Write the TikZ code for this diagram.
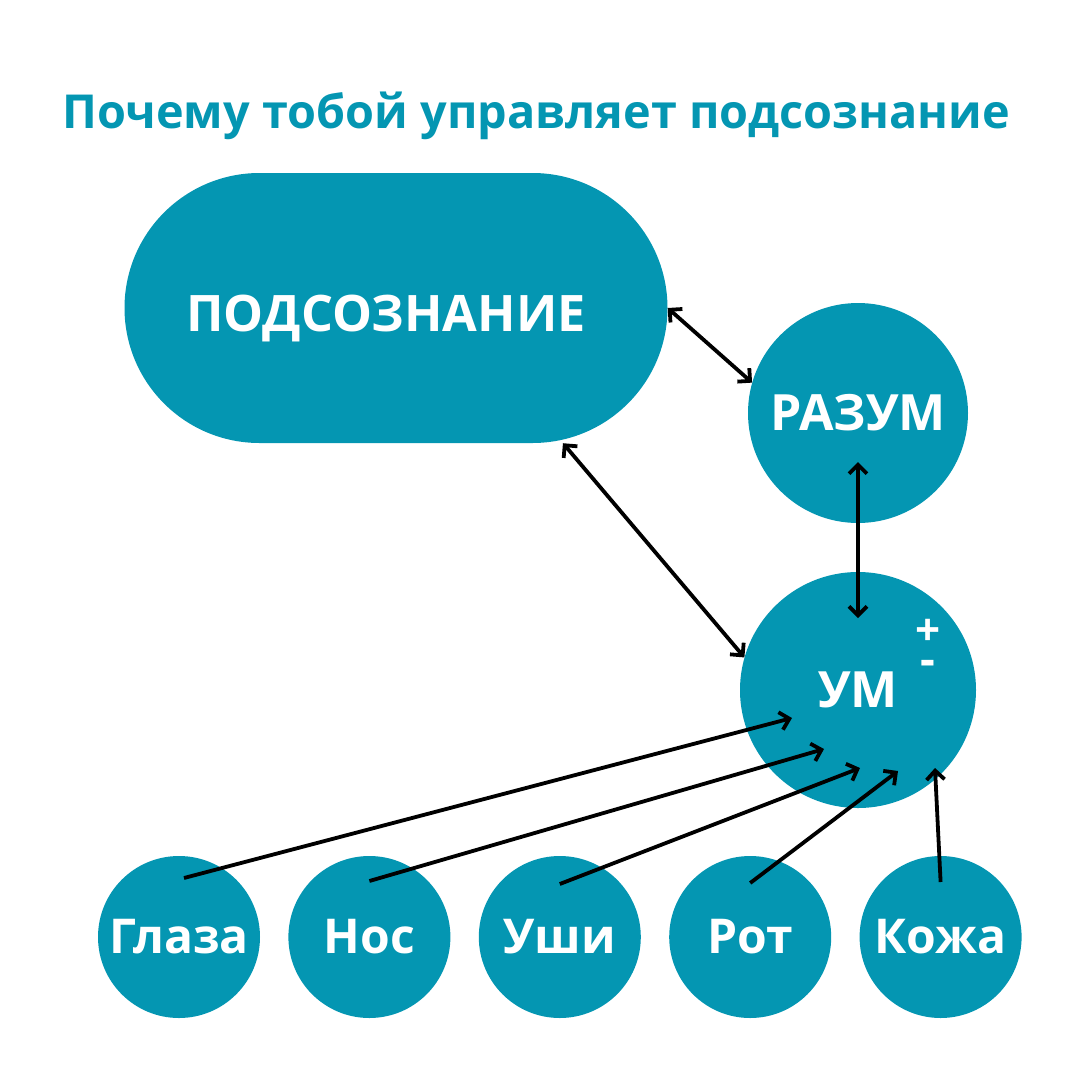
\documentclass[tikz,border=0pt]{standalone}
\usepackage{fontspec}
\setmainfont{Open Sans}
\usetikzlibrary{arrows.meta, positioning}
\definecolor{sea}{RGB}{4,150,178}
\newcommand{\heavytxt}[1]{\bfseries\fontsize{#1}{#1}\selectfont}

\begin{document}
\begin{tikzpicture}[x=1pt, y=-1pt, node distance=28pt, >={Straight Barb[length=9pt, width=18pt]},
    blob/.style={circle, fill=sea, text=white, inner sep=0pt, font=\heavytxt{50}},
    link/.style={<->, line width=3.8pt}]
        \useasboundingbox (0,0) rectangle (1080,1080);
        \node (title) [anchor=base west, inner sep=0pt, text=sea, font=\heavytxt{46.8}] at (62,128) {Почему тобой управляет подсознание};
        \node (pods) [fill=sea, text=white, rounded corners=135pt, minimum width=543pt, minimum height=270pt,
            text height=46pt, text depth=0pt, font=\heavytxt{50.3}] at (396,308) {ПОДСОЗНАНИЕ\hspace*{20pt}};
        \node (razum) [blob, minimum size=220pt] at (858,413) {РАЗУМ};
        \node (um) [blob, minimum size=236pt] at (858,690) {УМ};
        \node (plus) [text=white, font=\heavytxt{44}, inner sep=0pt] at (928,632) {+};
        \node (minus) [text=white, font=\heavytxt{46}, inner sep=0pt] at (928,668) {-};
        \node (glaza) [blob, minimum size=162pt, font=\heavytxt{48}] at (179,937) {Глаза};
        \node (nos) [blob, minimum size=162pt, font=\heavytxt{48}, right=of glaza] {Нос};
        \node (ushi) [blob, minimum size=162pt, font=\heavytxt{48}, right=of nos] {Уши};
        \node (rot) [blob, minimum size=162pt, font=\heavytxt{48}, right=of ushi] {Рот};
        \node (kozha) [blob, minimum size=162pt, font=\heavytxt{48}, right=of rot] {Кожа};
        \draw[link] (pods.east) -- (razum.164);
        \draw[link] (pods.-39.5) -- (um.164);
        \draw[link] ([yshift=-49pt]razum.center) -- ([yshift=72pt]um.center);
        \draw[->, line width=3.8pt] ([xshift=5pt, yshift=59pt]glaza.center) -- ([xshift=-66pt, yshift=-28pt]um.center);
        \draw[->, line width=3.8pt] ([yshift=56pt]nos.center) -- ([xshift=-34pt, yshift=-59pt]um.center);
        \draw[->, line width=3.8pt] ([yshift=53pt]ushi.center) -- ([xshift=2pt, yshift=-78pt]um.center);
        \draw[->, line width=3.8pt] ([yshift=54pt]rot.center) -- ([xshift=40pt, yshift=-81pt]um.center);
        \draw[->, line width=3.8pt] ([yshift=55pt]kozha.center) -- ([xshift=77pt, yshift=-78pt]um.center);
      \end{tikzpicture}
\end{document}
